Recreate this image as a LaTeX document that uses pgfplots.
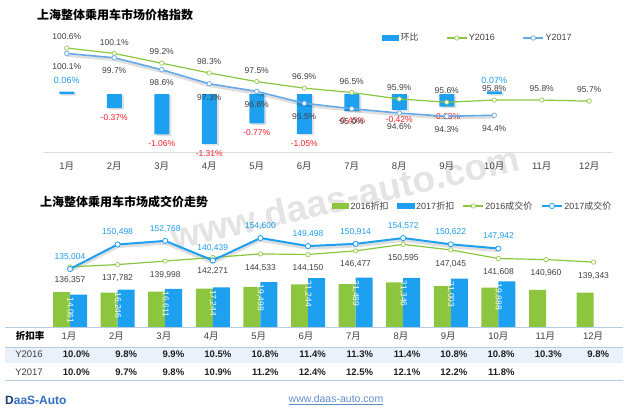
\documentclass[border=0pt]{standalone}
\usepackage{pgfplots}
\pgfplotsset{compat=1.18}
\usepackage{fontspec}
\setmainfont{Liberation Sans}
\newfontfamily\cjk{Noto Sans CJK SC}
\newcommand\fs[1]{\fontsize{#1bp}{#1bp}\selectfont}
\newcommand\M[1]{#1{\cjk 月}}
\definecolor{barblue}{RGB}{30,160,240}
\definecolor{lineblue}{RGB}{100,168,232}
\definecolor{lgreen}{RGB}{140,198,63}
\definecolor{txt}{RGB}{64,64,64}
\definecolor{red2}{RGB}{240,30,45}
\definecolor{labblue}{RGB}{30,155,230}
\definecolor{rowblue}{RGB}{234,241,250}
\definecolor{tline}{RGB}{184,204,228}
\definecolor{wm}{RGB}{228,228,228}
\definecolor{navy}{RGB}{25,60,120}
\definecolor{logoblue}{RGB}{50,110,190}
\definecolor{linkblue}{RGB}{95,140,205}
\pgfplotsset{mylinelegend/.style={legend image code/.code={\draw[mark repeat=2,mark phase=2,##1] plot coordinates {(0bp,0bp) (10bp,0bp) (20bp,0bp)};}},
  mybarlegend/.style={legend image code/.code={\path[##1, draw=none] (0bp,-2.6bp) rectangle (17.5bp,2.6bp);}}}

\begin{document}
\begin{tikzpicture}
\useasboundingbox (0,0) rectangle (640bp,-413bp);
% watermark
\node[rotate=13, anchor=base, inner sep=0pt, text=wm, font=\fs{37}\bfseries] at (348bp,-210bp) {www.daas-auto.com};

%================ TOP CHART: bars (环比) ================
\begin{axis}[at={(43bp,-152bp)}, anchor=south west, scale only axis,
  width=570bp, height=112bp, xmin=0.5, xmax=12.5, ymin=-1.526, ymax=1.421, clip=false,
  axis x line=bottom, axis y line=none, x axis line style={draw=black!13, line width=0.9pt, -},
  xtick={1,...,12}, xticklabels={\M1,\M2,\M3,\M4,\M5,\M6,\M7,\M8,\M9,\M{10},\M{11},\M{12}},
  major tick length=0pt, xticklabel style={font=\fs{9.5}, text=txt, yshift=-7bp}]
\addplot[ybar, bar width=15bp, bar shift=2bp, fill=black, fill opacity=0.12, draw=none, yshift=-1.5bp, forget plot] table {
x y
1 0.06
2 -0.37
3 -1.06
4 -1.31
5 -0.77
6 -1.05
7 -0.45
8 -0.42
9 -0.33
10 0.07
};
\addplot[ybar, bar width=15bp, bar shift=0pt, fill=barblue, draw=none, point meta=explicit symbolic,
  nodes near coords={\pgfplotspointmeta\%},
  every node near coord/.append style={anchor=south, yshift=4.5bp, font=\fs{9}, text=labblue}] table[meta=l] {
x y l
1 0.06 0.06
10 0.07 0.07
};
\addplot[ybar, bar width=15bp, bar shift=0pt, fill=barblue, draw=none, point meta=explicit symbolic,
  nodes near coords={\pgfplotspointmeta\%},
  every node near coord/.append style={anchor=north, yshift=-3bp, font=\fs{8.5}, text=red2}] table[meta=l] {
x y l
2 -0.37 -0.37
3 -1.06 -1.06
4 -1.31 -1.31
5 -0.77 -0.77
6 -1.05 -1.05
7 -0.45 -0.45
8 -0.42 -0.42
9 -0.33 -0.33
};
\end{axis}

%================ TOP CHART: lines ================
\begin{axis}[at={(43bp,-152bp)}, anchor=south west, scale only axis,
  width=570bp, height=112bp, xmin=0.5, xmax=12.5, ymin=91.01, ymax=101.34, clip=false,
  axis lines=none,
  legend style={at={(axis description cs:0.5939,1.018)}, anchor=west, draw=none, fill=none,
    inner sep=0pt, font=\fs{9}, text=txt, legend columns=3,
    /tikz/every even column/.append style={column sep=26bp}, nodes={inner sep=1.5bp}}]
\addlegendimage{mybarlegend, fill=barblue}
\addlegendentry{{\cjk 环比}}
\addplot[black, opacity=0.13, line width=2.6pt, yshift=-2bp, forget plot] table {
x y
1 100.1
2 99.7
3 98.6
4 97.3
5 96.6
6 95.5
7 95.0
8 94.6
9 94.3
10 94.4
};
\addplot[lgreen, line width=1.2pt, mark=*, mark size=2.2bp,
  mark options={fill=white, draw=lgreen, line width=0.6pt}, mylinelegend,
  point meta=explicit symbolic, nodes near coords={\pgfplotspointmeta\%},
  every node near coord/.append style={anchor=south, yshift=4.6bp, font=\fs{8.5}, text=txt}] table[meta=l] {
x y l
1 100.6 100.6
2 100.1 100.1
3 99.2 99.2
4 98.3 98.3
5 97.5 97.5
6 96.9 96.9
7 96.5 96.5
8 95.9 95.9
9 95.6 95.6
10 95.8 95.8
11 95.8 95.8
12 95.7 95.7
};
\addlegendentry{Y2016}
\addplot[lineblue, line width=1.6pt, mark=*, mark size=2.3bp,
  mark options={fill=white, draw=lineblue, line width=0.7pt}, mylinelegend,
  point meta=explicit symbolic, nodes near coords={\pgfplotspointmeta\%},
  every node near coord/.append style={anchor=north, yshift=-6.6bp, font=\fs{8.5}, text=txt}] table[meta=l] {
x y l
1 100.1 100.1
2 99.7 99.7
3 98.6 98.6
4 97.3 97.3
5 96.6 96.6
6 95.5 95.5
7 95.0 95.0
8 94.6 94.6
9 94.3 94.3
10 94.4 94.4
};
\addlegendentry{Y2017}
\end{axis}

%================ BOTTOM CHART: bars ================
\begin{axis}[at={(46.2bp,-327bp)}, anchor=south west, scale only axis,
  width=571.2bp, height=112bp, xmin=0.5, xmax=12.5, ymin=0, ymax=48700, clip=false,
  axis lines=none]
\addplot[ybar, bar width=17bp, bar shift=-8.5bp, fill=lgreen, draw=none] table {
x y
1 15150
2 14970
3 15380
4 16690
5 17500
6 18550
7 18660
8 19380
9 17800
10 17150
11 16190
12 14900
};
\addplot[ybar, bar width=17bp, bar shift=8.5bp, fill=barblue, draw=none, point meta=explicit symbolic,
  nodes near coords,
  every node near coord/.append style={rotate=-90, anchor=west, inner sep=2.5bp, font=\fs{8.5}, text=white}] table[meta=l] {
x y l
1 14061 14,061
2 16246 16,246
3 16611 16,611
4 17244 17,244
5 19498 19,498
6 21244 21,244
7 21489 21,489
8 21346 21,346
9 21003 21,003
10 19888 19,888
};
\end{axis}

%================ BOTTOM CHART: lines ================
\begin{axis}[at={(46.2bp,-327bp)}, anchor=south west, scale only axis,
  width=571.2bp, height=112bp, xmin=0.5, xmax=12.5, ymin=98271, ymax=169157, clip=false,
  axis lines=none,
  legend style={at={(axis description cs:0.4995,1.0804)}, anchor=west, draw=none, fill=none,
    inner sep=0pt, font=\fs{9}, text=txt, legend columns=4,
    /tikz/every even column/.append style={column sep=7bp}, nodes={inner sep=1.5bp}}]
\addlegendimage{mybarlegend, fill=lgreen}
\addlegendentry{2016{\cjk 折扣}}
\addlegendimage{mybarlegend, fill=barblue}
\addlegendentry{2017{\cjk 折扣}}
\addplot[black, opacity=0.13, line width=3pt, yshift=-2.2bp, forget plot] table {
x y
1 135004
2 150498
3 152768
4 140439
5 154600
6 149498
7 150914
8 154572
9 150622
10 147942
};
\addplot[lgreen, line width=1.2pt, mark=*, mark size=2.2bp,
  mark options={fill=white, draw=lgreen, line width=0.6pt}, mylinelegend,
  point meta=explicit symbolic, nodes near coords,
  every node near coord/.append style={anchor=north, yshift=-6.6bp, font=\fs{8.5}, text=txt}] table[meta=l] {
x y l
1 136357 136,357
2 137782 137,782
3 139998 139,998
4 142271 142,271
5 144533 144,533
6 144150 144,150
7 146477 146,477
8 150595 150,595
9 147045 147,045
10 141608 141,608
11 140960 140,960
12 139343 139,343
};
\addlegendentry{2016{\cjk 成交价}}
\addplot[barblue, line width=2pt, mark=*, mark size=2.6bp,
  mark options={fill=white, draw=barblue, line width=0.8pt}, mylinelegend,
  point meta=explicit symbolic, nodes near coords,
  every node near coord/.append style={anchor=south, yshift=5bp, font=\fs{8.5}, text=labblue}] table[meta=l] {
x y l
1 135004 135,004
2 150498 150,498
3 152768 152,768
4 140439 140,439
5 154600 154,600
6 149498 149,498
7 150914 150,914
8 154572 154,572
9 150622 150,622
10 147942 147,942
};
\addlegendentry{2017{\cjk 成交价}}
\end{axis}

%================ titles, table, footer ================
\begin{scope}[x=1bp,y=-1bp]
\node[anchor=west, inner sep=0pt, font=\fs{12}\cjk\bfseries] at (37,15) {上海整体乘用车市场价格指数};
\node[anchor=west, inner sep=0pt, font=\fs{12}\cjk\bfseries] at (40,202) {上海整体乘用车市场成交价走势};
% table
\fill[rowblue] (5,347) rectangle (623,363);
\draw[tline, line width=1pt] (5,327) -- (623,327);
\draw[tline, line width=1pt] (5,347) -- (623,347);
\draw[tline, line width=1pt] (5,380) -- (623,380);
\node[anchor=center, inner sep=0pt, font=\fs{9.5}\cjk\bfseries] at (30,336) {折扣率};
\node[anchor=center, inner sep=0pt, font=\fs{9.5}, text=txt] at (29,354) {Y2016};
\node[anchor=center, inner sep=0pt, font=\fs{9.5}, text=txt] at (29,372) {Y2017};
\foreach \m in {1,...,12}
  \node[anchor=west, inner sep=0pt, font=\fs{9.5}, text=txt] at ({61.5+(\m-1)*47.4},336) {\M{\m}};
\foreach \v [count=\i] in {10.0,9.8,9.9,10.5,10.8,11.4,11.3,11.4,10.8,10.8,10.3,9.8}
  \node[anchor=east, inner sep=0pt, font=\fs{9.5}\bfseries, text=black!88] at ({90+(\i-1)*47.2},354) {\v\%};
\foreach \v [count=\i] in {10.0,9.7,9.8,10.9,11.2,12.4,12.5,12.1,12.2,11.8}
  \node[anchor=east, inner sep=0pt, font=\fs{9.5}\bfseries, text=black!88] at ({90+(\i-1)*47.2},372) {\v\%};
% footer
\node[anchor=west, inner sep=0pt, font=\fs{12}\bfseries, text=logoblue] at (5,400) {{\color{navy}D}aaS-Auto};
\node[anchor=center, inner sep=0pt, font=\fs{10.5}, text=linkblue] at (336,400) {\underline{www.daas-auto.com}};
\end{scope}
\end{tikzpicture}
\end{document}
